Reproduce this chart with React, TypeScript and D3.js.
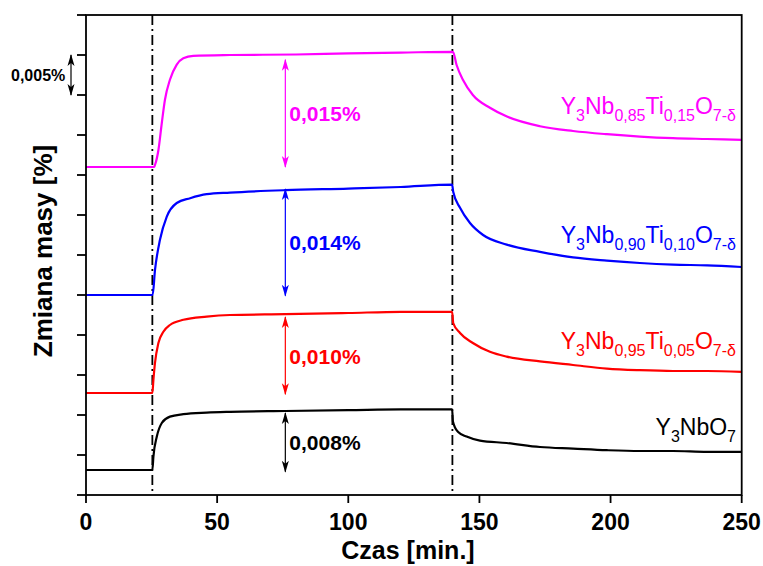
import React from 'react';
import * as d3 from 'd3';

// ---------- data ----------
const xTickValues = [0, 50, 100, 150, 200, 250];
const yTickValues = [0, 0.005, 0.01, 0.015, 0.02, 0.025, 0.03, 0.035, 0.04, 0.045, 0.05, 0.055, 0.06];

const tMag = [0, 26.0, 26.3, 27.6, 28.9, 30.1, 32.0, 34.6, 37.1, 40.9, 54.9, 80, 100, 120, 139.9, 141.3, 143.7, 147.5, 154, 160.5, 173.1, 185.7, 198.6, 211.2, 223.8, 236.8, 250];
const vMag = [0.0410, 0.0410, 0.04125, 0.0431, 0.0465, 0.0494, 0.0519, 0.0538, 0.0546, 0.0549, 0.0550, 0.05506, 0.0552, 0.0553, 0.0554, 0.05375, 0.0519, 0.0500, 0.0484, 0.0473, 0.0461, 0.0455, 0.0451, 0.0448, 0.0446, 0.0445, 0.0444];

const tBlue = [0, 25.4, 26.3, 28.2, 30.8, 34.6, 39.7, 46, 54.9, 76, 100, 120, 139.6, 140.0, 142.6, 146.4, 151.4, 160.4, 173.1, 185.7, 198.6, 211.2, 223.8, 236.8, 250];
const vBlue = [0.0250, 0.0250, 0.0281, 0.0319, 0.0348, 0.0365, 0.0371, 0.0376, 0.0378, 0.0381, 0.0383, 0.0385, 0.0388, 0.0379, 0.0359, 0.0340, 0.0325, 0.0313, 0.0304, 0.0297, 0.0293, 0.0290, 0.0288, 0.0287, 0.0285];

const tRed = [0, 25.3, 25.7, 26.3, 27.6, 29.5, 32.0, 37.1, 46, 54.9, 76, 100, 120, 139.6, 140.0, 142.6, 147.5, 154, 160.4, 173.1, 185.7, 198.6, 211.2, 223.8, 236.8, 250];
const vRed = [0.01275, 0.01275, 0.0144, 0.0165, 0.0190, 0.0204, 0.02125, 0.0219, 0.0223, 0.0225, 0.0226, 0.02275, 0.0229, 0.0229, 0.0215, 0.02025, 0.0190, 0.0179, 0.0173, 0.0167, 0.01625, 0.0158, 0.0156, 0.0155, 0.0155, 0.0154];

const tBlack = [0, 25.3, 25.7, 27.0, 28.9, 32.0, 37.1, 46, 54.9, 76, 100, 120, 139.6, 139.9, 141.8, 145.1, 150.2, 160.4, 173.1, 185.7, 198.6, 211.2, 223.8, 236.8, 250];
const vBlack = [0.003125, 0.003125, 0.0048, 0.0073, 0.0090, 0.0098, 0.0101, 0.0103, 0.0104, 0.0105, 0.0106, 0.0107, 0.0107, 0.0092, 0.0079, 0.0073, 0.0068, 0.0065, 0.0060, 0.0058, 0.0056, 0.0055, 0.0055, 0.0054, 0.0054];

const switchTimes = [25.3, 139.7];
const arrowTime = 76;
const arrowTop = [0.0544, 0.03825, 0.02225, 0.01025];
const arrowBottom = [0.0410, 0.0249, 0.0126, 0.0029];
const arrowLabels = ['0,015%', '0,014%', '0,010%', '0,008%'];
const scaleArrow = [0.055, 0.050];
const scaleLabel = '0,005%';

const seriesNames = [
  [['Y', 0], ['3', 1], ['Nb', 0], ['0,85', 1], ['Ti', 0], ['0,15', 1], ['O', 0], ['7-δ', 1]],
  [['Y', 0], ['3', 1], ['Nb', 0], ['0,90', 1], ['Ti', 0], ['0,10', 1], ['O', 0], ['7-δ', 1]],
  [['Y', 0], ['3', 1], ['Nb', 0], ['0,95', 1], ['Ti', 0], ['0,05', 1], ['O', 0], ['7-δ', 1]],
  [['Y', 0], ['3', 1], ['NbO', 0], ['7', 1]],
] as [string, number][][];

const xTitle = 'Czas [min.]';
const yTitle = 'Zmiana masy [%]';

// ---------- layout / style ----------
const W = 763, H = 566;
const L = 86, R = 741.7, T = 15, B = 495;
const colors = ['#ff00ff', '#0000ff', '#ff0000', '#000000'];
const nameOffsets = [26, 24, 23, 17];
const FONT = '"Liberation Sans", Arial, sans-serif';

export default function App() {
  const x = d3.scaleLinear().domain([0, 250]).range([L, R]);
  const y = d3.scaleLinear().domain([0, 0.06]).range([B, T]);
  const series = [
    { t: tMag, v: vMag },
    { t: tBlue, v: vBlue },
    { t: tRed, v: vRed },
    { t: tBlack, v: vBlack },
  ];
  const line = d3.line<[number, number]>()
    .x(d => x(d[0]))
    .y(d => y(d[1]))
    .curve(d3.curveMonotoneX);

  const ax = x(arrowTime);

  return (
    <svg width={W} height={H} style={{ position: 'absolute', left: 0, top: 0, background: '#fff' }} fontFamily={FONT}>
      <defs>
        {colors.map((c, i) => (
          <marker key={i} id={`ah${i}`} viewBox="0 0 12 8" refX="11" refY="4" markerWidth="12" markerHeight="8"
            markerUnits="userSpaceOnUse" orient="auto-start-reverse">
            <path d="M0,0.5 L12,4 L0,7.5 L3,4 Z" fill={c} />
          </marker>
        ))}
      </defs>
      <rect x={0} y={0} width={W} height={H} fill="#fff" />

      {/* switch lines */}
      {switchTimes.map((s, i) => (
        <line key={i} x1={x(s)} x2={x(s)} y1={T} y2={B} stroke="#000" strokeWidth={1.8} strokeDasharray="10,4,2,4" />
      ))}

      {/* series */}
      {series.map((s, i) => (
        <path key={i} d={line(s.t.map((t, j) => [t, s.v[j]] as [number, number])) || ''}
          fill="none" stroke={colors[i]} strokeWidth={2.2} strokeLinejoin="round" />
      ))}

      {/* arrows */}
      {arrowTop.map((a, i) => (
        <g key={i}>
          <line x1={ax} x2={ax} y1={y(a)} y2={y(arrowBottom[i])} stroke={colors[i]} strokeWidth={1.2}
            markerStart={`url(#ah${i})`} markerEnd={`url(#ah${i})`} />
          <text x={ax + 4} y={(y(a) + y(arrowBottom[i])) / 2 + 8} fill={colors[i]} fontWeight="bold" fontSize={21}>
            {arrowLabels[i]}
          </text>
        </g>
      ))}

      {/* scale arrow */}
      <line x1={71} x2={71} y1={y(scaleArrow[0])} y2={y(scaleArrow[1])} stroke="#000" strokeWidth={1.2}
        markerStart="url(#ah3)" markerEnd="url(#ah3)" />
      <text x={11} y={(y(scaleArrow[0]) + y(scaleArrow[1])) / 2 + 6} fontSize={16} fontWeight="bold" fill="#000">{scaleLabel}</text>

      {/* series names */}
      {seriesNames.map((parts, i) => {
        const lastV = series[i].v[series[i].v.length - 1];
        return (
          <text key={i} x={736} y={y(lastV) - nameOffsets[i]} textAnchor="end" fill={colors[i]} fontSize={23}>
            {parts.map(([txt, sub], j) => {
              const prevSub = j > 0 ? parts[j - 1][1] : 0;
              const dy = sub && !prevSub ? 7 : !sub && prevSub ? -7 : 0;
              return (
                <tspan key={j} dy={dy} fontSize={sub ? 16 : 23}>{txt}</tspan>
              );
            })}
          </text>
        );
      })}

      {/* frame */}
      <rect x={L} y={T} width={R - L} height={B - T} fill="none" stroke="#000" strokeWidth={1.8} />

      {/* x ticks */}
      {xTickValues.map(v => (
        <g key={v}>
          <line x1={x(v)} x2={x(v)} y1={B} y2={B + 8} stroke="#000" strokeWidth={1.8} />
          <text x={x(v)} y={530} textAnchor="middle" fontWeight="bold" fontSize={23}>{v}</text>
        </g>
      ))}
      {/* y ticks */}
      {yTickValues.map(v => (
        <line key={v} x1={L - 9} x2={L} y1={y(v)} y2={y(v)} stroke="#000" strokeWidth={1.8} />
      ))}

      {/* titles */}
      <text x={408} y={559} textAnchor="middle" fontWeight="bold" fontSize={25}>{xTitle}</text>
      <text transform={`translate(52,251) rotate(-90)`} textAnchor="middle" fontWeight="bold" fontSize={26}>{yTitle}</text>
    </svg>
  );
}
